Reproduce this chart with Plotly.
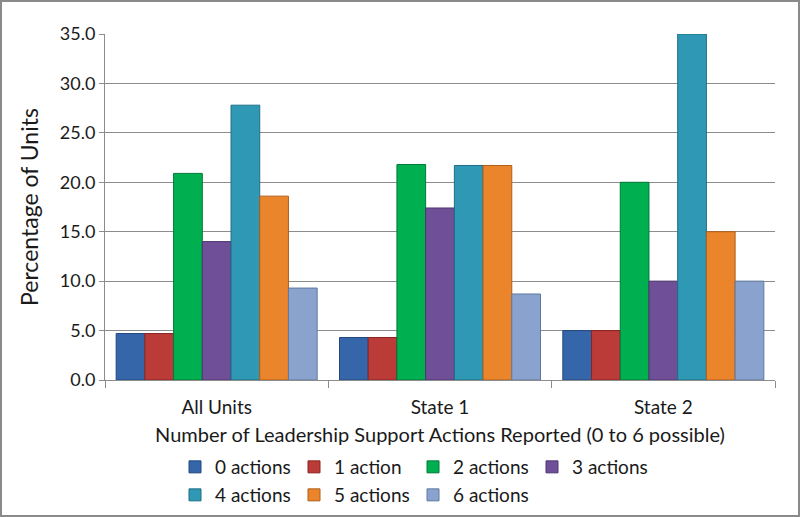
import plotly.graph_objects as go

categories = ["All Units", "State 1", "State 2"]
series_names = ["0 actions", "1 action", "2 actions", "3 actions", "4 actions", "5 actions", "6 actions"]
v0 = [4.7, 4.3, 5.0]
v1 = [4.7, 4.3, 5.0]
v2 = [20.9, 21.8, 20.0]
v3 = [14.0, 17.4, 10.0]
v4 = [27.8, 21.7, 35.0]
v5 = [18.6, 21.7, 15.0]
v6 = [9.3, 8.7, 10.0]
values = [v0, v1, v2, v3, v4, v5, v6]
y_ticks = [0, 5, 10, 15, 20, 25, 30, 35]

colors = ["#3566A9", "#BA3B37", "#00B050", "#6F4F98", "#2F98B4", "#EB852B", "#8AA3CE"]
edges = ["#22487E", "#8A2522", "#007A38", "#4E3670", "#1F6E85", "#B05E18", "#60789F"]

FONT = "Lato, 'Open Sans', sans-serif"
fig = go.Figure()
for i, (name, vals) in enumerate(zip(series_names, values)):
    fig.add_trace(go.Bar(
        x=categories, y=vals, name=name,
        marker=dict(color=colors[i], line=dict(color=edges[i], width=1)),
        legend="legend" if i < 4 else "legend2",
    ))

L, R, T, B = 105, 25, 34, 137
W, H = 800, 517
pw, ph = W - L - R, H - T - B

fig.update_layout(
    width=W, height=H,
    margin=dict(l=L, r=R, t=T, b=B, autoexpand=False),
    paper_bgcolor="white", plot_bgcolor="white",
    barmode="group", bargap=0.1, bargroupgap=0,
    font=dict(family=FONT, size=19, color="#1a1a1a"),
    xaxis=dict(
        showline=True, linecolor="#8c8c8c", linewidth=1,
        ticks="outside", tickson="boundaries", ticklen=7, tickcolor="#8c8c8c",
        tickfont=dict(size=19), ticklabelstandoff=10,
        title=dict(text="Number of Leadership Support Actions Reported (0 to 6 possible)",
                   font=dict(size=20), standoff=11),
    ),
    yaxis=dict(
        range=[0, 35], tickvals=y_ticks, tickformat=".1f",
        showgrid=True, gridcolor="#8c8c8c", gridwidth=1,
        showline=True, linecolor="#8c8c8c", linewidth=1,
        ticks="outside", ticklen=5, tickcolor="#8c8c8c",
        tickfont=dict(size=18),
        title=dict(text="Percentage of Units", font=dict(size=23), standoff=14),
        zeroline=False,
    ),
    legend=dict(orientation="h", x=(175 - L) / pw, xanchor="left",
                y=(380 - 467) / ph, yanchor="middle",
                entrywidth=74, entrywidthmode="pixels",
                font=dict(size=19), bgcolor="rgba(0,0,0,0)"),
    legend2=dict(orientation="h", x=(175 - L) / pw, xanchor="left",
                 y=(380 - 495) / ph, yanchor="middle",
                 entrywidth=74, entrywidthmode="pixels",
                 font=dict(size=19), bgcolor="rgba(0,0,0,0)"),
    shapes=[dict(type="rect", xref="paper", yref="paper",
                 x0=(1 - L) / pw, x1=(799 - L) / pw,
                 y0=(380 - 516) / ph, y1=(380 - 1) / ph,
                 line=dict(color="#8a8a8a", width=2), fillcolor="rgba(0,0,0,0)")],
)

fig.write_html("out.html", config={"displayModeBar": False},
               post_script="document.body.style.margin='0';document.body.style.overflow='hidden';")
